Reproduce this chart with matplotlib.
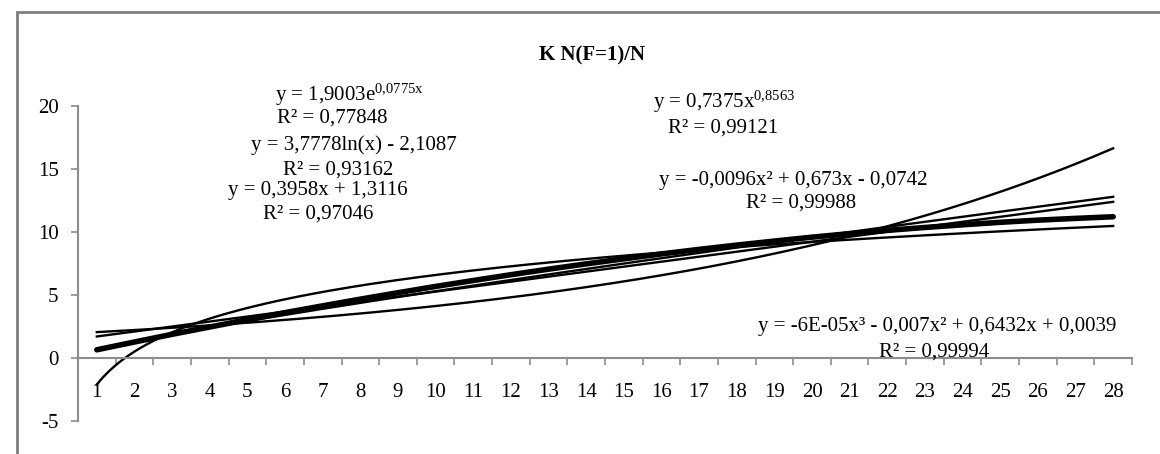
import matplotlib.pyplot as plt
import numpy as np
from matplotlib.patches import Rectangle
from matplotlib.ticker import FixedLocator

plt.rcParams['font.family'] = ['Liberation Serif', 'DejaVu Serif']
plt.rcParams['mathtext.fontset'] = 'custom'
plt.rcParams['mathtext.rm'] = 'Liberation Serif'
plt.rcParams['mathtext.it'] = 'Liberation Serif:italic'
plt.rcParams['axes.unicode_minus'] = False

# Category axis 1..28 and the measured series (thick line)
x = np.arange(1, 29)
values = [0.65, 1.27, 1.88, 2.46, 3.04, 3.6, 4.14, 4.67, 5.18, 5.68,
          6.15, 6.61, 7.05, 7.47, 7.87, 8.26, 8.62, 8.96, 9.28, 9.59,
          9.87, 10.13, 10.36, 10.57, 10.77, 10.94, 11.08, 11.21]

# Trendline coefficients as printed on the chart
exp_coef = (1.9003, 0.0775)          # a * e^(b x)
log_coef = (3.7778, -2.1087)         # a ln(x) + b
pow_coef = (0.7375, 0.8563)          # a x^b
lin_coef = (0.3958, 1.3116)          # a x + b
poly2_coef = (-0.0096, 0.673, -0.0742)
poly3_coef = (-6e-05, -0.007, 0.6432, 0.0039)

title = 'K N(F=1)/N'

fig = plt.figure(figsize=(11.6, 4.54), dpi=100)
fig.patch.set_facecolor('white')

# outer chart frame (cut off at right and bottom)
fig.patches.append(Rectangle((17 / 1160, -0.2), 1.2, 1 - 12 / 454 + 0.2,
                             transform=fig.transFigure, fill=False,
                             edgecolor='#7f7f7f', linewidth=2))

ax = fig.add_axes([78 / 1160, 1 - 421 / 454, (1132 - 78) / 1160, (421 - 106) / 454])

xs = np.linspace(1, 28, 300)
trend = [
    exp_coef[0] * np.exp(exp_coef[1] * xs),
    log_coef[0] * np.log(xs) + log_coef[1],
    pow_coef[0] * xs ** pow_coef[1],
    lin_coef[0] * xs + lin_coef[1],
    np.polyval(poly2_coef, xs),
    np.polyval(poly3_coef, xs),
]
for t in trend:
    ax.plot(xs, t, color='black', linewidth=1.7)

ax.plot(x, values, color='black', linewidth=4, solid_capstyle='round')

ax.set_xlim(0.5, 28.5)
ax.set_ylim(-5, 20)
ax.set_yticks([-5, 0, 5, 10, 15, 20])

for s in ['top', 'right']:
    ax.spines[s].set_visible(False)
ax.spines['left'].set_color('#8c8c8c')
ax.spines['left'].set_linewidth(1.5)
ax.spines['bottom'].set_position(('data', 0))
ax.spines['bottom'].set_color('#8c8c8c')
ax.spines['bottom'].set_linewidth(1.5)

ax.set_xticks(x)
ax.set_xticklabels([str(v) for v in x])
ax.xaxis.set_minor_locator(FixedLocator(np.arange(0.5, 29, 1)))
ax.tick_params(axis='x', which='major', length=0, pad=18, labelsize=15)
ax.tick_params(axis='x', which='minor', length=5, color='#8c8c8c', width=1.2)
ax.tick_params(axis='y', length=5, color='#8c8c8c', width=1.2, labelsize=15, pad=9)

def ftext(px, py, s, **kw):
    fig.text(px / 1160, 1 - py / 454, s, ha='center', va='center',
             fontsize=15, **kw)

ftext(592, 55, title, fontweight='bold')
ftext(349, 95, r'y = 1,9003e$^{\mathrm{0{,}0775x}}$')
ftext(332, 118, 'R² = 0,77848')
ftext(354, 145, 'y = 3,7778ln(x) - 2,1087')
ftext(338, 170, 'R² = 0,93162')
ftext(318, 191, 'y = 0,3958x + 1,3116')
ftext(318, 214, 'R² = 0,97046')
ftext(724, 102, r'y = 0,7375x$^{\mathrm{0{,}8563}}$')
ftext(723, 128, 'R² = 0,99121')
ftext(793, 180, 'y = -0,0096x² + 0,673x - 0,0742')
ftext(801, 203, 'R² = 0,99988')
ftext(937, 327, 'y = -6E-05x³ - 0,007x² + 0,6432x + 0,0039')
ftext(934, 352, 'R² = 0,99994')

plt.savefig('out.png', dpi=100, facecolor='white')
